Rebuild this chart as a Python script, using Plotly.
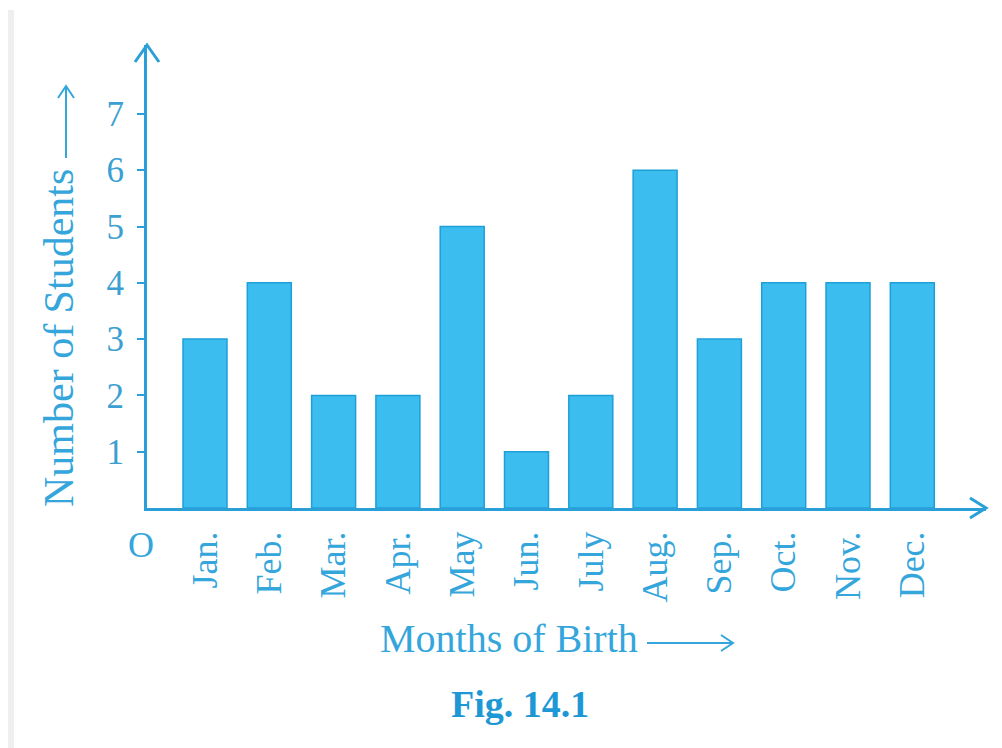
import plotly.graph_objects as go

months = ["Jan.", "Feb.", "Mar.", "Apr.", "May", "Jun.", "July", "Aug.", "Sep.", "Oct.", "Nov.", "Dec."]
students = [3, 4, 2, 2, 5, 1, 2, 6, 3, 4, 4, 4]
y_ticks = [1, 2, 3, 4, 5, 6, 7]

# the page body adds an 8px offset, so the figure is sized to fill the rest
OFF = 8
W, H = 1002 - OFF, 748 - OFF
X0, X1, Y0, Y1 = 147, 986, 508, 45   # plot-area edges in window pixels
ML, MR, MT, MB = X0 - OFF, 1002 - X1, Y1 - OFF, 748 - Y0
PW, PH = X1 - X0, Y0 - Y1

def px(xp):
    return (xp - X0) / PW

def py(yp):
    return (Y0 - yp) / PH

AXIS = "#2A9FD8"
TXT = "#34A6DC"
SERIF = "Liberation Serif, Times New Roman, serif"

fig = go.Figure()
fig.add_trace(go.Bar(
    x=list(range(len(months))), y=students,
    marker=dict(color="#3CBDF0", line=dict(color="#1E9FD8", width=1.5)),
    hoverinfo="skip",
))

fig.update_layout(
    width=W, height=H,
    margin=dict(l=ML, r=MR, t=MT, b=MB, pad=0),
    paper_bgcolor="white", plot_bgcolor="white",
    showlegend=False, bargap=0.316,
    xaxis=dict(
        range=[-0.902, 12.146], tickmode="array",
        tickvals=list(range(len(months))), ticktext=months,
        tickangle=-90, showgrid=False, zeroline=False,
        showline=True, linecolor=AXIS, linewidth=3, ticks="",
        tickfont=dict(family=SERIF, size=36, color=TXT),
        ticklabelstandoff=6,
    ),
    yaxis=dict(
        range=[0, 8.224], tickmode="array", tickvals=y_ticks,
        ticktext=[str(v) for v in y_ticks],
        showgrid=False, zeroline=False,
        showline=True, linecolor=AXIS, linewidth=3,
        ticks="outside", ticklen=7, tickwidth=2, tickcolor=AXIS,
        tickfont=dict(family=SERIF, size=35, color="#3B9FD2"),
        ticklabelstandoff=6,
    ),
)

ann = []
ann.append(dict(text="Number of Students", x=px(59), y=py(338), xref="paper", yref="paper",
                textangle=-90, showarrow=False, xanchor="center", yanchor="middle",
                font=dict(family=SERIF, size=42, color=TXT)))
ann.append(dict(text="Months of Birth", x=px(509), y=py(638), xref="paper", yref="paper",
                showarrow=False, xanchor="center", yanchor="middle",
                font=dict(family=SERIF, size=40, color=TXT)))
ann.append(dict(text="O", x=px(141), y=py(545), xref="paper", yref="paper",
                showarrow=False, xanchor="center", yanchor="middle",
                font=dict(family=SERIF, size=36, color=TXT)))
ann.append(dict(text="<b>Fig. 14.1</b>", x=px(520), y=py(704), xref="paper", yref="paper",
                showarrow=False, xanchor="center", yanchor="middle",
                font=dict(family=SERIF, size=38, color="#1E98D5")))
fig.update_layout(annotations=ann)

shapes = []
# arrowheads at axis ends
shapes.append(dict(type="path", xref="paper", yref="paper", xsizemode="pixel", ysizemode="pixel",
                   xanchor=0, yanchor=1, path="M -12,-17 L 0,0 L 12,-17",
                   line=dict(color=AXIS, width=3)))
shapes.append(dict(type="path", xref="paper", yref="paper", xsizemode="pixel", ysizemode="pixel",
                   xanchor=1, yanchor=0, path="M -16,10 L 0,0 L -16,-10",
                   line=dict(color=AXIS, width=3)))
# arrow next to x title
shapes.append(dict(type="path", xref="paper", yref="paper", xsizemode="pixel", ysizemode="pixel",
                   xanchor=px(647), yanchor=py(643),
                   path="M 0,0 L 86,0 M 74,8 L 86,0 L 74,-8",
                   line=dict(color=TXT, width=2)))
# arrow next to y title
shapes.append(dict(type="path", xref="paper", yref="paper", xsizemode="pixel", ysizemode="pixel",
                   xanchor=px(66), yanchor=py(158),
                   path="M 0,0 L 0,72 M -8,60 L 0,72 L 8,60",
                   line=dict(color=TXT, width=2)))
# faint scan border on left
shapes.append(dict(type="line", xref="paper", yref="paper",
                   x0=px(11), x1=px(11), y0=py(10), y1=py(748),
                   line=dict(color="#EFEFEF", width=6)))
fig.update_layout(shapes=shapes)

fig.write_html("out.html")
